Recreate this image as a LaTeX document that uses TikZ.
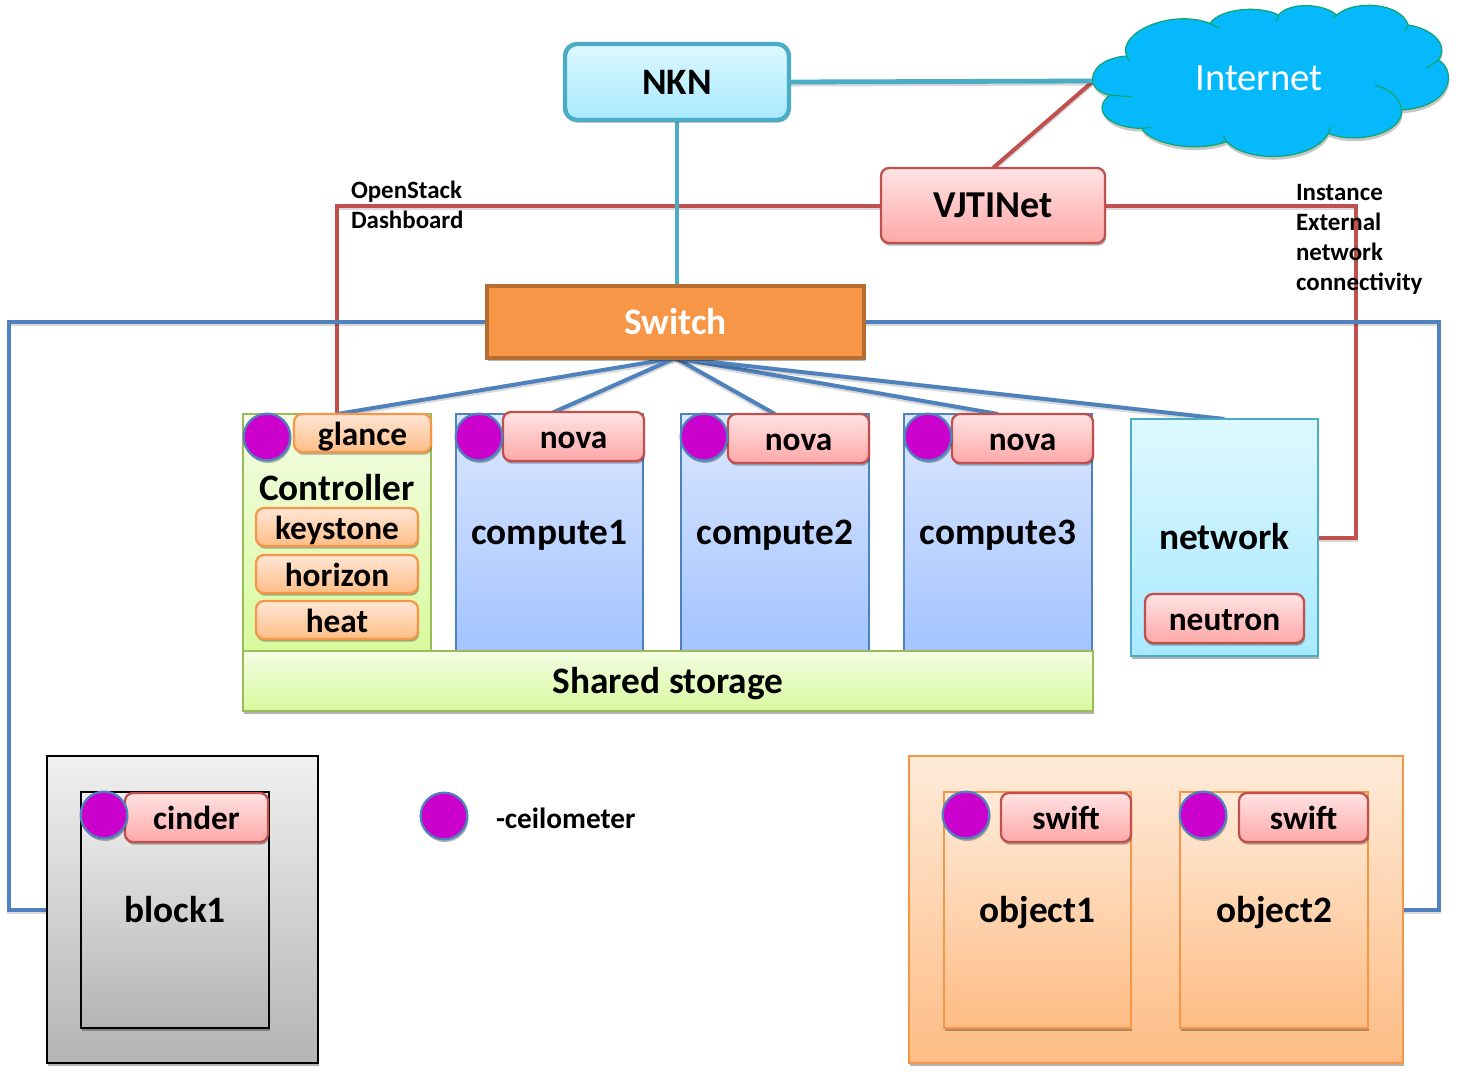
\documentclass[tikz,border=0pt]{standalone}
\usepackage{fontspec}
\setmainfont{Carlito}
\usetikzlibrary{shadows,backgrounds,calc}
\definecolor{cRed}{HTML}{C0504D}
\definecolor{cTeal}{HTML}{4BACC6}
\definecolor{cBlue}{HTML}{4F81BD}
\definecolor{cOrange}{HTML}{F79646}
\definecolor{cGreen}{HTML}{9BBB59}
\definecolor{cPurple}{HTML}{CC00CC}
\definecolor{cloudF}{HTML}{05B9FC}
\definecolor{cloudL}{HTML}{0FA56E}
\definecolor{swB}{HTML}{B66D31}
\definecolor{chipRT}{HTML}{FFE3E3}
\definecolor{chipRB}{HTML}{FFA8A8}
\definecolor{chipOT}{HTML}{FFE6D6}
\definecolor{chipOB}{HTML}{FFBE86}
\definecolor{compT}{HTML}{DBE7FF}
\definecolor{compB}{HTML}{A3C4FF}
\definecolor{greenT}{HTML}{F3FDE4}
\definecolor{greenB}{HTML}{D8FA9E}
\definecolor{netT}{HTML}{DDF8FF}
\definecolor{netB}{HTML}{A8E9FF}
\definecolor{greyT}{HTML}{F0F0F0}
\definecolor{greyB}{HTML}{B4B4B4}
\definecolor{orT}{HTML}{FFEBD9}
\definecolor{orB}{HTML}{FDBC84}
\tikzset{
  softshadow/.style={drop shadow={shadow xshift=0.8pt,shadow yshift=-2pt,opacity=.3,fill=black}},
  base/.style={inner sep=0pt,outer sep=0pt,align=center,line width=1.7pt,text=black,font=\bfseries\fontsize{28}{32}\selectfont,text height=18.6pt,text depth=0pt},
  chipred/.style={base,softshadow,rounded corners=6pt,draw=cRed,top color=chipRT,bottom color=chipRB,font=\bfseries\fontsize{25}{28}\selectfont},
  chiporange/.style={base,softshadow,rounded corners=6pt,draw=cOrange,top color=chipOT,bottom color=chipOB,font=\bfseries\fontsize{25}{28}\selectfont},
  compbox/.style={base,softshadow,draw=cBlue,top color=compT,bottom color=compB},
  ctrlbox/.style={base,softshadow,draw=cGreen,top color=greenT,bottom color=greenB},
  netbox/.style={base,softshadow,draw=cTeal,line width=1.3pt,top color=netT,bottom color=netB},
  greybox/.style={base,softshadow,draw=black,top color=greyT,bottom color=greyB},
  orangebox/.style={base,softshadow,draw=cOrange,top color=orT,bottom color=orB},
  ceilo/.style={circle,inner sep=0pt,outer sep=0pt,minimum size=35pt,draw=cBlue,line width=1.7pt,fill=cPurple,softshadow},
  conn/.style={line width=#1,preaction={draw=black,opacity=.15,line width=#1,transform canvas={yshift=-1.6pt}}},
  conn/.default=3pt,
  smalltext/.style={inner sep=0pt,outer sep=0pt,anchor=base west,font=\bfseries\fontsize{18.7}{20}\selectfont,text=black},
}
% \bx{name}{x1}{y1}{x2}{y2}{style}{text}
\newcommand{\bx}[7]{%
  \pgfmathsetmacro{\bxw}{(#4-#2)*0.75}\pgfmathsetmacro{\bxh}{(#5-#3)*0.75}%
  \pgfmathsetmacro{\bxx}{(#2+#4)/2}\pgfmathsetmacro{\bxy}{(#3+#5)/2}%
  \node[#6,minimum width=\bxw pt,minimum height=\bxh pt] (#1) at (\bxx,\bxy) {#7};}
\newcommand{\cloudpath}{(38,235) .. controls (40,190) and (100,170) .. (140,168)
 .. controls (110,100) and (270,25) .. (390,70)
 .. controls (420,25) and (540,15) .. (595,45)
 .. controls (630,5) and (730,10) .. (770,45)
 .. controls (820,0) and (960,5) .. (985,75)
 .. controls (1050,85) and (1110,130) .. (1075,180)
 .. controls (1130,210) and (1120,320) .. (965,330)
 .. controls (970,400) and (830,435) .. (745,400)
 .. controls (700,485) and (500,490) .. (440,425)
 .. controls (340,460) and (210,430) .. (185,385)
 .. controls (90,385) and (30,330) .. (90,285)
 .. controls (60,280) and (35,260) .. (38,235) -- cycle}
\begin{document}
\begin{tikzpicture}[x=0.75pt,y=-0.75pt]
\useasboundingbox (0,0) rectangle (1459,1074);

% cloud
\begin{scope}[shift={(1080,0)},x=0.25pt,y=-0.25pt]
\coordinate (cloudtip) at (40,243);
\begin{scope}[shift={(2,10)}]
\fill[black,opacity=.22] \cloudpath;
\end{scope}
\path[fill=cloudF,draw=cloudL,line width=.9pt] \cloudpath;
\draw[cloudL,line width=.9pt]
 (140,168) -- (146,182)
 (390,70) -- (418,85)
 (595,45) -- (590,66)
 (770,45) -- (758,56)
 (985,75) -- (975,92)
 (1075,180) -- (1040,205)
 (885,257) .. controls (930,265) and (960,295) .. (965,330)
 (745,400) -- (752,380)
 (440,425) -- (430,407)
 (185,385) -- (212,382)
 (90,285) -- (155,291);
\end{scope}
\node[inner sep=0pt,outer sep=0pt,anchor=base,text=white,font=\fontsize{29}{32}\selectfont] (internet) at (1259,90) {Internet};

% top
\bx{nkn}{565}{44}{789}{120}{base,softshadow,draw=cTeal,line width=3.3pt,rounded corners=9pt,top color=netT,bottom color=netB}{NKN}
\bx{vjti}{881}{168}{1105}{243}{chipred,font=\bfseries\fontsize{28.5}{32}\selectfont}{VJTINet}
\bx{switch}{487}{286}{864}{358}{base,softshadow,draw=swB,line width=2.3pt,fill=cOrange,text=white}{Switch}

% servers
\bx{ctrl}{243}{414}{431}{651}{ctrlbox}{}
\bx{comp1}{456}{414}{643}{651}{compbox}{compute1}
\bx{comp2}{681}{414}{869}{651}{compbox}{compute2}
\bx{comp3}{904}{414}{1092}{651}{compbox}{compute3}
\bx{net}{1131}{419}{1318}{656}{netbox}{network}
\bx{shared}{243}{651}{1093}{711}{ctrlbox}{Shared storage}

\bx{glance}{294}{414}{431}{452}{chiporange}{glance}
\node[inner sep=0pt,outer sep=0pt,anchor=base,font=\bfseries\fontsize{28}{32}\selectfont] (ctrllabel) at (337,500) {Controller};
\bx{keystone}{256}{508}{418}{546}{chiporange}{keystone}
\bx{horizon}{256}{555}{418}{593}{chiporange}{horizon}
\bx{heat}{256}{601}{418}{639}{chiporange}{heat}
\bx{nova1}{503}{412}{644}{461}{chipred}{nova}
\bx{nova2}{728}{414}{869}{463}{chipred}{nova}
\bx{nova3}{952}{414}{1093}{463}{chipred}{nova}
\bx{neutron}{1145}{594}{1304}{643}{chipred}{neutron}

% storage nodes
\bx{blockouter}{47}{756}{318}{1063}{greybox}{}
\bx{block}{81}{792}{269}{1028}{greybox}{block1}
\bx{cinder}{125}{793}{268}{842}{chipred}{cinder}
\bx{objouter}{909}{756}{1403}{1063}{orangebox}{}
\bx{obj1}{944}{792}{1131}{1028}{orangebox}{object1}
\bx{obj2}{1180}{792}{1368}{1028}{orangebox}{object2}
\bx{swift1}{1001}{793}{1131}{842}{chipred}{swift}
\bx{swift2}{1239}{793}{1368}{842}{chipred}{swift}

% ceilometer markers
\node[ceilo] (c0) at (267,437) {};
\node[ceilo] (c1) at (479,437) {};
\node[ceilo] (c2) at (704,437) {};
\node[ceilo] (c3) at (928,437) {};
\node[ceilo] (c4) at (104,815) {};
\node[ceilo] (c5) at (966,815) {};
\node[ceilo] (c6) at (1203,815) {};
\node[ceilo] (c7) at (444,816) {};
\node[smalltext,font=\bfseries\fontsize{22}{24}\selectfont] (ceilolabel) at (496,828) {-ceilometer};

% labels
\node[smalltext] (osd1) at (351,198) {OpenStack};
\node[smalltext] (osd2) at (351,228) {Dashboard};
\node[smalltext] (ext1) at (1296,200) {Instance};
\node[smalltext] (ext2) at (1296,230) {External};
\node[smalltext] (ext3) at (1296,260) {network};
\node[smalltext] (ext4) at (1296,290) {connectivity};

\begin{scope}[on background layer]
\draw[cRed,conn] (vjti.west) -| (ctrl.north);
\draw[cRed,conn] (vjti.east) -| ($(net.east)+(38,0)$) -- (net.east);
\draw[cRed,conn] (vjti.north) -- (cloudtip);
\draw[cTeal,conn=3.6pt] (nkn.east) -- (cloudtip);
\draw[cTeal,conn=3.6pt] (nkn.south) -- (nkn.south |- switch.north);
\draw[cBlue,conn] (switch.west) -- ($(switch.west)+(-478,0)$) |- (blockouter.west);
\draw[cBlue,conn] (switch.east) -- ($(switch.east)+(575,0)$) |- (objouter.east);
\draw[cBlue,conn] (switch.south) -- (ctrl.north);
\draw[cBlue,conn] (switch.south) -- (comp1.north);
\draw[cBlue,conn] (switch.south) -- (comp2.north);
\draw[cBlue,conn] (switch.south) -- (comp3.north);
\draw[cBlue,conn] (switch.south) -- (net.north);
\end{scope}
\end{tikzpicture}
\end{document}
